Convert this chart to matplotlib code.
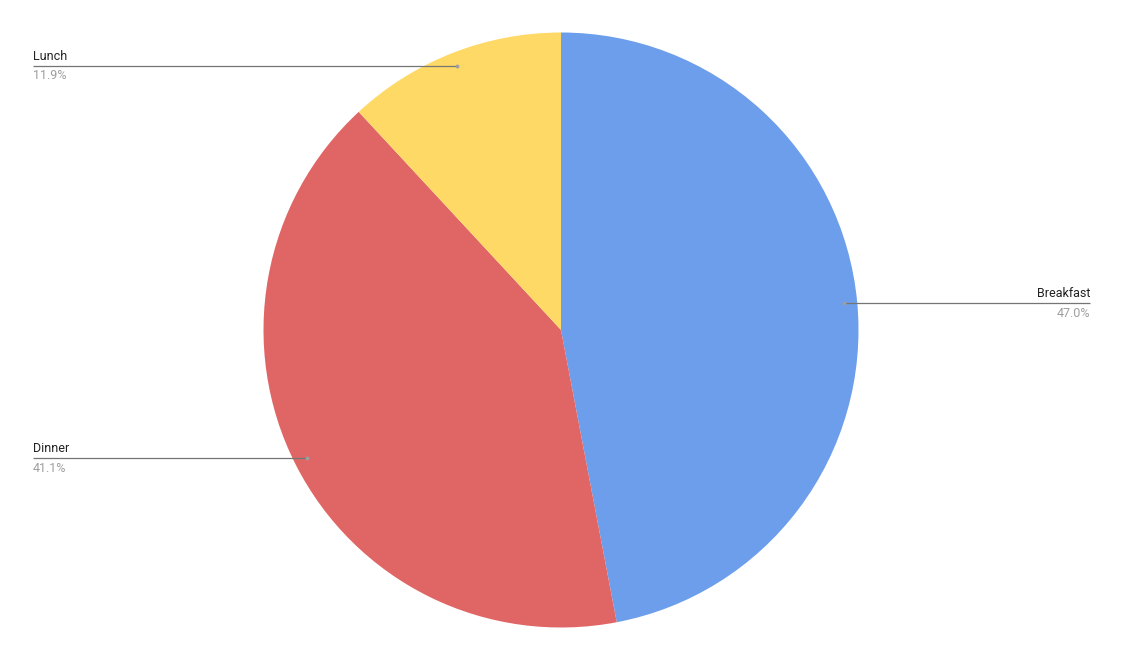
import numpy as np
import matplotlib
matplotlib.use("Agg")
import matplotlib.pyplot as plt

labels = ["Breakfast", "Dinner", "Lunch"]
values = [47.0, 41.1, 11.9]
colors = ["#6d9eeb", "#e06666", "#ffd966"]

W, H = 1123, 661
fig = plt.figure(figsize=(W / 100, H / 100), dpi=100)
ax = fig.add_axes([0, 0, 1, 1])

cx, cy, R = 561, H - 330, 297.5
wedges, _ = ax.pie(values, colors=colors, startangle=90, counterclock=False,
                   center=(cx, cy), radius=R, frame=True,
                   wedgeprops=dict(edgecolor="none", linewidth=0))

total = sum(values)
for w, lab, v in zip(wedges, labels, values):
    ang = np.deg2rad((w.theta1 + w.theta2) / 2)
    px = cx + 0.955 * R * np.cos(ang)
    py = cy + 0.955 * R * np.sin(ang)
    if px > cx:
        xe, ha = 1090, "right"
    else:
        xe, ha = 33, "left"
    ax.plot([px, xe], [py, py], color="#757575", lw=0.9, solid_capstyle="butt")
    ax.plot([px], [py], marker="o", ms=2.8, color="#9e9e9e", mec="none")
    ax.text(xe, py + 3, lab, ha=ha, va="bottom", fontsize=9.0,
            family="Roboto", color="#222222")
    ax.text(xe, py - 3.5, f"{v / total * 100:.1f}%", ha=ha, va="top",
            fontsize=9.0, family="Roboto", color="#9e9e9e")

ax.set_xlim(0, W)
ax.set_ylim(0, H)
ax.set_aspect("equal")
ax.axis("off")

fig.savefig("out.png", dpi=100, facecolor="white")
